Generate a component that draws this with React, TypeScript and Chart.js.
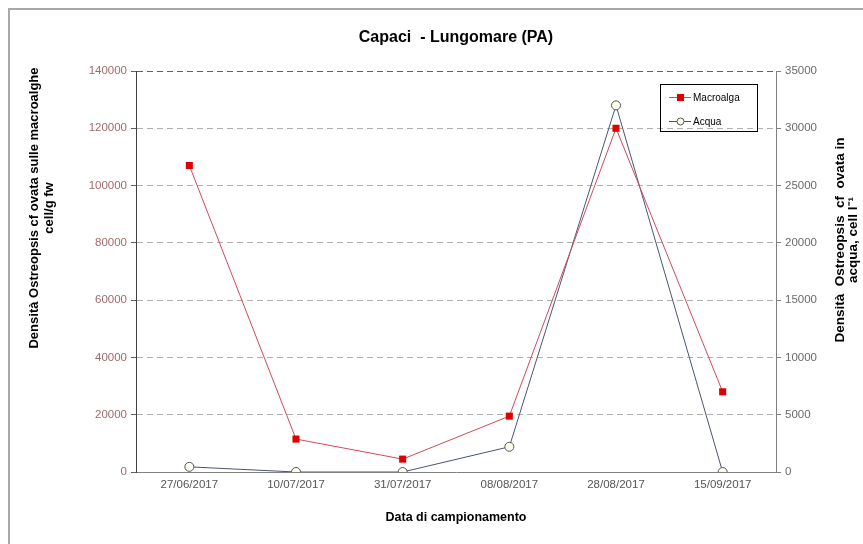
import React, { useEffect, useRef } from "react";
import { Chart, registerables } from "chart.js";

Chart.register(...registerables);

const categories = ["27/06/2017", "10/07/2017", "31/07/2017", "08/08/2017", "28/08/2017", "15/09/2017"];
const macroalgaValues = [107000, 11500, 4500, 19500, 120000, 28000];
const acquaValues = [450, 0, 0, 2200, 32000, 0];
const leftTicks = [0, 20000, 40000, 60000, 80000, 100000, 120000, 140000];
const rightTicks = [0, 5000, 10000, 15000, 20000, 25000, 30000, 35000];

const FONT = "'Liberation Sans', Arial, sans-serif";

const textPlugin = {
  id: "customText",
  afterDraw(chart: any) {
    const ctx = chart.ctx as CanvasRenderingContext2D;
    const area = chart.chartArea;
    const cx = (area.left + area.right) / 2;
    ctx.save();
    ctx.fillStyle = "#000";
    ctx.textAlign = "center";
    ctx.textBaseline = "middle";
    ctx.font = `bold 16px ${FONT}`;
    ctx.fillText("Capaci  - Lungomare (PA)", cx, 28);
    ctx.font = `bold 12.5px ${FONT}`;
    ctx.fillText("Data di campionamento", cx, 508);
    // left title
    ctx.font = `bold 13px ${FONT}`;
    ctx.save();
    ctx.translate(24, 198);
    ctx.rotate(-Math.PI / 2);
    ctx.fillText("Densità Ostreopsis cf ovata sulle macroalghe", 0, 0);
    ctx.fillText("cell/g fw", 0, 15);
    ctx.restore();
    // right title
    ctx.font = `bold 13.5px ${FONT}`;
    ctx.save();
    ctx.translate(830, 230);
    ctx.rotate(-Math.PI / 2);
    ctx.fillText("Densità  Ostreopsis  cf  ovata in", 0, 0);
    ctx.fillText("acqua, cell l\u207B\u00B9", 0, 13);
    ctx.restore();

    // legend
    const bx = 650, by = 74, bw = 97, bh = 47;
    ctx.strokeStyle = "#000";
    ctx.lineWidth = 1;
    ctx.strokeRect(bx + 0.5, by + 0.5, bw, bh);
    ctx.font = `10px ${FONT}`;
    ctx.textAlign = "left";
    const y1 = by + 13;
    ctx.strokeStyle = "#d04a5a";
    ctx.beginPath();
    ctx.moveTo(bx + 9, y1 + 0.5);
    ctx.lineTo(bx + 31, y1 + 0.5);
    ctx.stroke();
    ctx.fillStyle = "#e00000";
    ctx.fillRect(bx + 17, y1 - 3, 7, 7);
    ctx.fillStyle = "#000";
    ctx.fillText("Macroalga", bx + 33, y1 + 1);
    const y2 = by + 37;
    ctx.strokeStyle = "#4a566e";
    ctx.beginPath();
    ctx.moveTo(bx + 9, y2 + 0.5);
    ctx.lineTo(bx + 31, y2 + 0.5);
    ctx.stroke();
    ctx.fillStyle = "#fffff0";
    ctx.strokeStyle = "#555";
    ctx.beginPath();
    ctx.arc(bx + 20.5, y2 + 0.5, 3.5, 0, Math.PI * 2);
    ctx.fill();
    ctx.stroke();
    ctx.fillStyle = "#000";
    ctx.fillText("Acqua", bx + 33, y2 + 1);
    ctx.restore();
  },
};

export default function App() {
  const ref = useRef<HTMLCanvasElement>(null);
  useEffect(() => {
    if (!ref.current) return;
    const chart = new Chart(ref.current, {
      type: "line",
      data: {
        labels: categories,
        datasets: [
          {
            label: "Macroalga",
            data: macroalgaValues,
            yAxisID: "y",
            borderColor: "#d04a5a",
            borderWidth: 1,
            backgroundColor: "#e00000",
            pointBackgroundColor: "#e00000",
            pointBorderColor: "#e00000",
            pointStyle: "rect",
            pointRadius: 5,
            pointBorderWidth: 0,
            tension: 0,
          },
          {
            label: "Acqua",
            data: acquaValues,
            yAxisID: "y1",
            borderColor: "#4a566e",
            borderWidth: 1,
            pointBackgroundColor: "#fffff0",
            pointBorderColor: "#555",
            pointBorderWidth: 1,
            pointStyle: "circle",
            pointRadius: 4.5,
            tension: 0,
          },
        ],
      },
      options: {
        animation: false,
        responsive: false,
        layout: { padding: { top: 61, left: 0, right: 0, bottom: 0 } },
        plugins: {
          legend: { display: false },
          title: { display: false },
          tooltip: { enabled: false },
        },
        scales: {
          x: {
            offset: true,
            grid: { display: false, drawTicks: false },
            border: { display: true, color: "#808080", width: 1 },
            ticks: { color: "#555", font: { family: FONT, size: 11.5 }, padding: 6, maxRotation: 0 },
            afterFit: (s: any) => { s.height = 72; },
          },
          y: {
            position: "left",
            min: 0,
            max: 140000,
            afterBuildTicks: (s: any) => { s.ticks = leftTicks.map((v) => ({ value: v })); },
            grid: {
              color: (c: any) => (c.tick && c.tick.value === 0 ? "rgba(0,0,0,0)" : c.tick && c.tick.value === 140000 ? "#606060" : "#b0b0b0"),
              tickColor: "#606060",
              tickLength: 5,
            },
            border: { display: true, color: "#404040", width: 1, dash: [6, 4] },
            ticks: { color: "#a06a6a", font: { family: FONT, size: 11.5 }, padding: 4, callback: (v: any) => String(v) },
            afterFit: (s: any) => { s.width = 126; },
          },
          y1: {
            position: "right",
            min: 0,
            max: 35000,
            afterBuildTicks: (s: any) => { s.ticks = rightTicks.map((v) => ({ value: v })); },
            grid: { drawOnChartArea: false, tickColor: "#808080", tickLength: 5 },
            border: { display: true, color: "#808080", width: 1 },
            ticks: { color: "#6a6a6a", font: { family: FONT, size: 11.5 }, padding: 4, callback: (v: any) => String(v) },
            afterFit: (s: any) => { s.width = 87; },
          },
        },
      } as any,
      plugins: [textPlugin],
    });
    return () => chart.destroy();
  }, []);
  return (
    <div style={{ position: "fixed", left: 8, top: 8, width: 853, height: 534, borderLeft: "2px solid #a8a8a8", borderTop: "2px solid #a8a8a8", background: "#fff" }}>
      <canvas ref={ref} width={853} height={534} style={{ display: "block" }} />
    </div>
  );
}
